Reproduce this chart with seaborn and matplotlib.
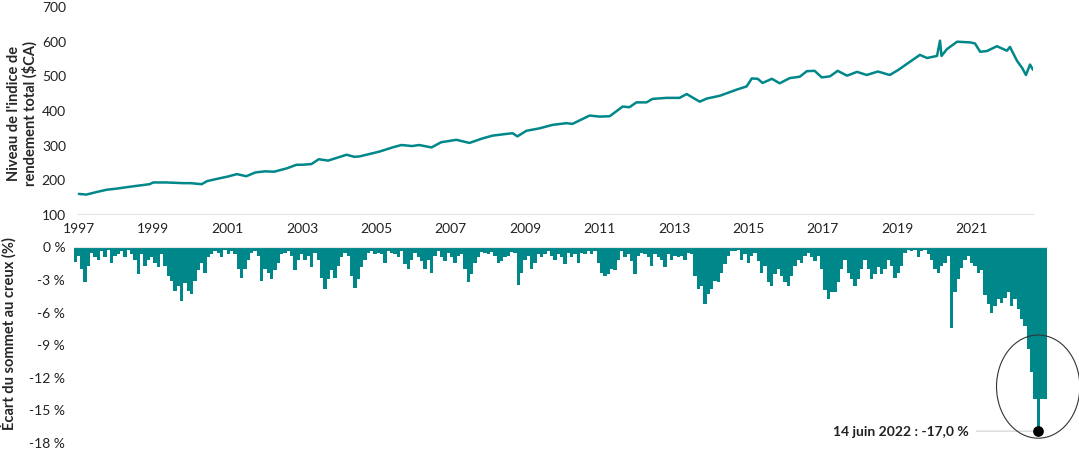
import matplotlib
matplotlib.use("Agg")
import matplotlib.pyplot as plt
from matplotlib.patches import Ellipse
import seaborn as sns
import pandas as pd
import numpy as np

# niveau de l'indice de rendement total ($CA)
index_years = [1997.0, 1997.2, 1997.5, 1997.75, 1998.0, 1998.4, 1998.9, 1999.0, 1999.35, 1999.8,
               2000.0, 2000.3, 2000.45, 2000.7, 2001.0, 2001.25, 2001.5, 2001.75, 2002.0, 2002.25,
               2002.6, 2002.85, 2003.0, 2003.25, 2003.45, 2003.7, 2004.2, 2004.4, 2004.54, 2005.08,
               2005.43, 2005.67, 2005.96, 2006.15, 2006.48, 2006.74, 2007.15, 2007.5, 2007.85, 2008.12,
               2008.49, 2008.66, 2008.79, 2009.03, 2009.38, 2009.73, 2010.11, 2010.27, 2010.73, 2011.0,
               2011.27, 2011.62, 2011.8, 2011.99, 2012.26, 2012.42, 2012.8, 2013.15, 2013.34, 2013.69,
               2013.88, 2014.23, 2014.69, 2014.95, 2015.09, 2015.25, 2015.38, 2015.63, 2015.84, 2016.11,
               2016.38, 2016.57, 2016.78, 2016.97, 2017.19, 2017.4, 2017.65, 2017.92, 2018.18, 2018.48,
               2018.8, 2019.02, 2019.26, 2019.61, 2019.8, 2020.07, 2020.15, 2020.19, 2020.34, 2020.61,
               2020.96, 2021.09, 2021.23, 2021.41, 2021.68, 2021.95, 2022.03, 2022.22, 2022.36, 2022.46,
               2022.57, 2022.65]
index_levels = [158, 156, 164, 170, 173, 179, 186, 191, 191, 189,
                189, 186, 195, 201, 208, 215, 209, 220, 223, 222,
                232, 242, 242, 244, 258, 254, 271, 265, 266, 280,
                292, 299, 296, 299, 292, 307, 314, 305, 318, 326,
                331, 333, 324, 340, 347, 357, 362, 360, 384, 381,
                382, 410, 408, 422, 422, 432, 435, 435, 446, 424,
                433, 441, 459, 468, 491, 490, 478, 490, 477, 492,
                496, 512, 513, 494, 497, 513, 499, 510, 501, 511,
                501, 515, 533, 559, 550, 556, 600, 556, 576, 597,
                595, 592, 568, 570, 584, 571, 582, 542, 521, 501,
                531, 516]

# écart du sommet au creux (%), une valeur par barre, de 1997 à 2022
drawdown_pct = [-1.4, -0.9, -2.1, -3.3, -1.8, -0.6, -1.0, -1.2, -0.4, -1.0,
                -0.3, -1.5, -0.9, -0.7, -0.4, -1.0, -0.3, -0.7, -1.2, -2.5,
                -0.7, -1.8, -1.2, -1.0, -1.5, -1.9, -0.7, -1.8, -2.7, -3.2,
                -4.1, -3.6, -5.0, -3.4, -4.1, -4.4, -3.2, -2.2, -1.5, -2.4,
                -1.0, -0.7, -0.4, -0.6, -1.0, -0.3, -0.7, -0.4, -0.7, -2.1,
                -2.9, -2.1, -1.2, -0.6, -0.4, -0.9, -3.2, -2.1, -2.4, -3.0,
                -2.2, -1.5, -0.7, -0.6, -0.4, -0.9, -2.2, -1.2, -0.7, -1.2,
                -0.9, -1.9, -0.6, -1.2, -2.9, -3.9, -3.0, -2.2, -2.9, -1.8,
                -1.0, -0.6, -0.9, -2.7, -3.8, -3.0, -1.9, -1.2, -0.6, -0.4,
                -0.7, -0.6, -0.7, -1.5, -0.4, -0.6, -0.7, -1.0, -0.4,
                -1.6, -2.1, -1.2, -0.6, -1.0, -1.3, -2.1, -1.2, -2.4, -0.9,
                -0.4, -1.0, -1.3, -0.6, -1.0, -1.5, -0.9, -0.7, -2.1, -3.3,
                -2.5, -1.5, -1.0, -0.5, -0.6, -0.7, -0.5, -0.9, -1.5, -1.3,
                -1.0, -0.9, -0.5, -0.6, -3.5, -2.4, -1.2, -0.9, -2.1, -1.5,
                -0.7, -1.0, -0.7, -0.4, -0.9, -1.2, -0.7, -1.0, -1.6,
                -0.6, -1.0, -0.7, -1.5, -0.6, -0.7, -0.4, -0.7, -0.4, -1.5,
                -2.4, -2.7, -2.5, -2.1, -2.2, -1.2, -0.4, -1.0, -0.7, -1.3,
                -2.5, -0.9, -0.6, -0.7, -1.0, -1.8, -0.7, -1.0, -1.2, -1.9,
                -0.7, -1.2, -0.9, -1.0, -0.9, -1.2, -0.6, -0.7, -2.7, -3.9,
                -3.6, -5.3, -4.4, -3.9, -3.2, -3.3, -2.4, -1.6, -0.9, -0.4,
                -0.4, -0.3, -1.2, -0.7, -1.5, -0.9, -0.6, -1.3, -2.4, -1.8,
                -3.3, -3.6, -2.5, -2.1, -2.7, -3.3, -3.6, -2.7, -1.8, -1.2,
                -1.5, -0.9, -0.6, -1.0, -1.3, -0.9, -2.1, -4.0, -4.8, -4.2,
                -4.2, -3.3, -2.1, -1.2, -2.4, -3.0, -3.6, -3.0, -2.1, -1.2,
                -2.1, -3.0, -2.5, -1.9, -2.5, -2.1, -1.2, -1.8, -2.9,
                -2.4, -1.8, -0.6, -0.3, -0.4, -0.3, -1.0, -0.4, -0.3, -0.7,
                -1.2, -2.1, -2.4, -1.8, -1.5, -0.9, -7.5, -4.2, -3.0, -2.0,
                -1.2, -0.9, -1.5, -1.8, -2.4, -2.2, -4.5, -5.3, -6.1, -5.5,
                -4.8, -5.2, -4.7, -4.2, -5.5, -4.8, -5.8, -6.7, -7.3, -9.4,
                -11.6, -14.0, -17.0, -14.0, -14.0]
trough_date = "14 juin 2022"

level_ticks = [100, 200, 300, 400, 500, 600, 700]
drawdown_ticks = [0, -3, -6, -9, -12, -15, -18]
year_ticks = list(range(1997, 2022, 2))

teal = "#00878A"
text_col = "#222222"

sns.set_style("white")
plt.rcParams['font.family'] = ['Lato', 'DejaVu Sans']
plt.rcParams['text.color'] = text_col
plt.rcParams['xtick.color'] = text_col
plt.rcParams['ytick.color'] = text_col

W, H = 1079, 452
fig = plt.figure(figsize=(W / 100, H / 100), dpi=100)
ax1 = fig.add_axes([77 / W, 1 - 215 / H, 956 / W, 208 / H])
ax2 = fig.add_axes([73.5 / W, 1 - 443 / H, 973 / W, 195.5 / H])

# --- panneau du haut : niveau de l'indice
df_idx = pd.DataFrame({'Année': index_years, 'Niveau': index_levels})
sns.lineplot(data=df_idx, x='Année', y='Niveau', color=teal, lw=1.8, ax=ax1)
ax1.set_xlim(1996.95, 2022.65)
ax1.set_ylim(100, 700)
ax1.set_yticks(level_ticks)
ax1.set_xticks(year_ticks)
ax1.set_xticklabels([str(y) for y in year_ticks])
ax1.tick_params(axis='y', length=0, pad=8, labelsize=10)
ax1.tick_params(axis='x', length=3, width=0.6, color='#dddddd', pad=3, labelsize=10)
for s in ['top', 'right', 'left']:
    ax1.spines[s].set_visible(False)
ax1.spines['bottom'].set_color('#e6e6e6')
ax1.spines['bottom'].set_linewidth(0.8)
ax1.set_xlabel('')
ax1.set_ylabel("Niveau de l'indice de\nrendement total ($CA)", fontweight='bold', fontsize=10.5,
               linespacing=1.1)
ax1.yaxis.set_label_coords(-0.041, 0.49)

# --- panneau du bas : écart du sommet au creux
n = len(drawdown_pct)
df_dd = pd.DataFrame({'Semaine': np.arange(n), 'Écart': drawdown_pct})
sns.barplot(data=df_dd, x='Semaine', y='Écart', native_scale=True, width=1, color=teal,
            saturation=1, linewidth=0, errorbar=None, ax=ax2)
ax2.set_xlim(-0.5, n - 0.5)
ax2.set_ylim(-18, 0)
ax2.set_yticks(drawdown_ticks)
ax2.set_yticklabels([f"{t} %" for t in drawdown_ticks])
ax2.set_xticks([])
ax2.tick_params(axis='y', length=0, pad=6, labelsize=10)
for s in ['bottom', 'right', 'left']:
    ax2.spines[s].set_visible(False)
ax2.spines['top'].set_color('#e6e6e6')
ax2.spines['top'].set_linewidth(0.8)
ax2.set_xlabel('')
ax2.set_ylabel("Écart du sommet au creux (%)", fontweight='bold', fontsize=10.5)
ax2.yaxis.set_label_coords(-0.058, 0.56)

# creux le plus profond
i_min = int(np.argmin(drawdown_pct))
v_min = drawdown_pct[i_min]
ax2.scatter([i_min], [v_min], s=45, color='black', zorder=5, clip_on=False)
ax2.add_patch(Ellipse((i_min, -12.9), width=25, height=9.5, fill=False,
                      edgecolor='#333333', lw=0.8, clip_on=False, zorder=6))
label = f"{trough_date} : {v_min:.1f} %".replace('.', ',')
ax2.annotate(label, xy=(i_min, v_min), xytext=(-50, 0), textcoords='offset points',
             ha='right', va='center', fontweight='bold', fontsize=10, color=text_col,
             arrowprops=dict(arrowstyle='-', color='#d0d0d0', lw=0.8, shrinkA=3, shrinkB=4))

fig.savefig('out.png', dpi=100)
